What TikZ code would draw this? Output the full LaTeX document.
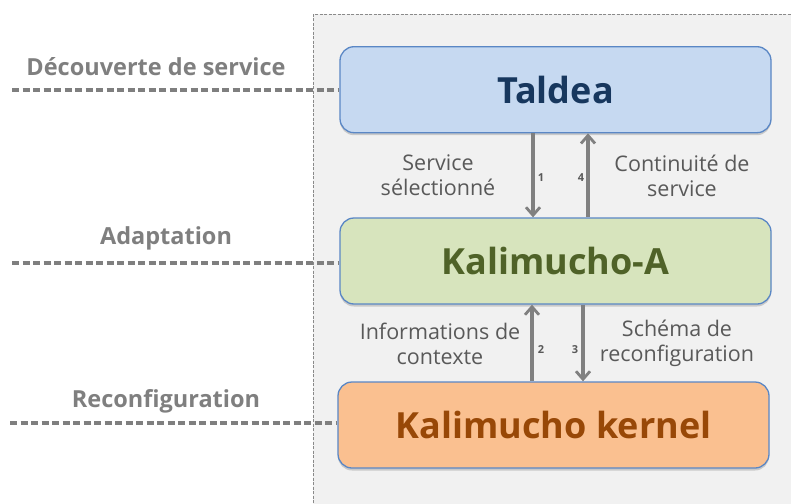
\documentclass[tikz,border=0pt]{standalone}
\usepackage{fontspec}
\setmainfont{Open Sans}
\usetikzlibrary{arrows.meta,shadows,calc}
\definecolor{panelfill}{HTML}{F1F1F1}
\definecolor{panelline}{HTML}{8A8A8A}
\definecolor{boxline}{HTML}{5A87C5}
\definecolor{tfill}{HTML}{C6D9F1}
\definecolor{ttext}{HTML}{17375E}
\definecolor{afill}{HTML}{D7E4BD}
\definecolor{atext}{HTML}{4F6228}
\definecolor{kfill}{HTML}{FAC090}
\definecolor{ktext}{HTML}{984807}
\definecolor{arrgray}{HTML}{808080}
\definecolor{labgray}{HTML}{7F7F7F}
\definecolor{txtgray}{HTML}{595959}
\tikzset{
  layerbox/.style={draw=boxline, line width=1.3pt, rounded corners=14pt,
    minimum width=431pt, minimum height=86pt, inner sep=0pt,
    font=\fontsize{36}{42}\selectfont\bfseries,
    drop shadow={shadow xshift=0pt, shadow yshift=-2.5pt, opacity=0.35}},
  flowarr/.style={draw=arrgray, line width=3.4pt, -{Straight Barb[length=8pt,width=14pt,line width=2.8pt]}},
  layerline/.style={draw=labgray, line width=3.2pt, dash pattern=on 7pt off 3.5pt},
  layerlab/.style={text=labgray, font=\fontsize{23.5}{26}\selectfont\bfseries, inner sep=0pt},
  flowlab/.style={text=txtgray, font=\fontsize{21.5}{25}\selectfont, align=center, inner sep=0pt},
  numlab/.style={text=txtgray, font=\fontsize{11}{12}\selectfont\bfseries, inner sep=0pt}
}
\begin{document}
\begin{tikzpicture}[x=1pt,y=-1pt]
\useasboundingbox (0,0) rectangle (791,503);
\clip (0,0) rectangle (791,503);
\draw[panelline, fill=panelfill, line width=0.8pt, dash pattern=on 3pt off 1.5pt] (313,14) rectangle (800,515);

\node[layerbox, fill=tfill, text=ttext] (taldea) at (555.5,89.7) {Taldea};
\node[layerbox, fill=afill, text=atext] (kalA) at (555.5,261) {Kalimucho-A};
\node[layerbox, fill=kfill, text=ktext] (kern) at (553.5,425) {Kalimucho kernel};

\coordinate (l1) at (12,90);
\coordinate (l2) at (12,263);
\coordinate (l3) at (10,423);
\draw[layerline] (l1) -- (l1 -| taldea.west);
\draw[layerline] (l2) -- (l2 -| kalA.west);
\draw[layerline] (l3) -- (l3 -| kern.west);

\node[layerlab] (dlab) at (156,67) {Découverte de service};
\node[layerlab] (alab) at (166,238) {Adaptation};
\node[layerlab] (rlab) at (166,401) {Reconfiguration};

\draw[flowarr] ($(taldea.south)+(-22.5,0)$) -- ($(kalA.north)+(-22.5,0)$);
\draw[flowarr] ($(kalA.north)+(32.5,0)$) -- ($(taldea.south)+(32.5,0)$);
\draw[flowarr] ($(kern.north)+(-21.5,0)$) -- ($(kalA.south)+(-23.5,0)$);
\draw[flowarr] ($(kalA.south)+(27.5,0)$) -- ($(kern.north)+(29.5,0)$);

\node[numlab] (n1) at (541,178) {1};
\node[numlab] (n4) at (581,178) {4};
\node[numlab] (n2) at (541,350) {2};
\node[numlab] (n3) at (575,350) {3};

\node[flowlab] (s1) at (438,175.5) {Service\\sélectionné};
\node[flowlab] (s4) at (682,175.5) {Continuité de\\service};
\node[flowlab] (s2) at (440,343.5) {Informations de\\contexte};
\node[flowlab] (s3) at (677,343.5) {Schéma de\\reconfiguration};
\end{tikzpicture}
\end{document}
